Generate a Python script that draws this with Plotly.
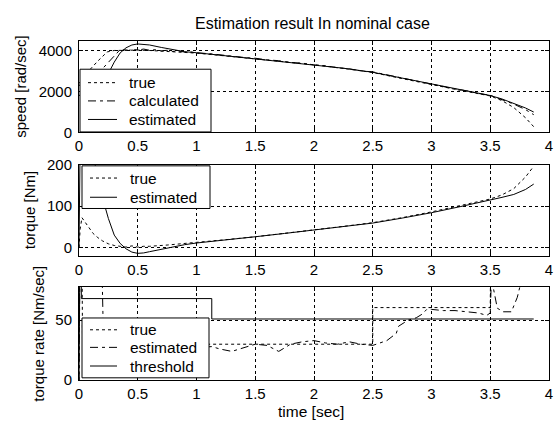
import plotly.graph_objects as go

# ---------------- data ----------------
# speed panel
speed_true_t = [0.0, 0.08, 0.16, 0.24, 0.3, 0.4, 0.5, 0.6, 0.75, 0.9, 1.0, 1.25, 1.5, 1.75, 2.0, 2.25,
                2.5, 2.75, 3.0, 3.25, 3.5, 3.6, 3.7, 3.8, 3.87]
speed_true = [2400, 3000, 3500, 3950, 4020, 4040, 4040, 4020, 3980, 3920, 3890, 3750, 3610, 3470, 3320,
              3140, 2940, 2640, 2340, 2060, 1790, 1560, 1220, 720, 280]

speed_calc_t = [0.0, 0.18, 0.26, 0.34, 0.38, 0.42, 0.46, 0.5, 0.55, 0.6, 0.65, 0.7, 0.75, 0.8, 0.85, 0.9,
                0.95, 1.0, 1.1, 1.2, 1.3, 1.4, 1.5, 1.6, 1.7, 1.8, 1.9, 2.0, 2.1, 2.2, 2.3, 2.4, 2.5,
                2.6, 2.7, 2.8, 2.9, 3.0, 3.1, 3.2, 3.3, 3.4, 3.5, 3.6, 3.7, 3.8, 3.87]
speed_calc = [2300, 3000, 3500, 4000, 4060, 4020, 4080, 4040, 4090, 4030, 4060, 4000, 4030, 3970, 3990,
              3940, 3950, 3900, 3870, 3800, 3760, 3680, 3640, 3560, 3520, 3430, 3400, 3310, 3270, 3170,
              3120, 3020, 2970, 2850, 2740, 2600, 2500, 2370, 2270, 2130, 2040, 1910, 1820, 1620, 1390,
              1120, 870]

speed_est_t = [0.0, 0.26, 0.3, 0.35, 0.4, 0.45, 0.5, 0.55, 0.6, 0.7, 0.8, 0.9, 1.0, 1.25, 1.5, 1.75,
               2.0, 2.25, 2.5, 2.75, 3.0, 3.25, 3.5, 3.6, 3.7, 3.8, 3.87]
speed_est = [1800, 3000, 3450, 3900, 4150, 4290, 4340, 4330, 4290, 4170, 4060, 3960, 3910, 3760, 3620,
             3480, 3330, 3150, 2950, 2660, 2370, 2090, 1810, 1640, 1430, 1200, 1000]

# torque panel
torque_true_t = [0.0, 0.01, 0.025, 0.05, 0.08, 0.12, 0.16, 0.2, 0.25, 0.3, 0.35, 0.4, 0.45, 0.5, 0.55,
                 0.6, 0.75, 1.0, 1.25, 1.5, 1.75, 2.0, 2.25, 2.5, 2.75, 3.0, 3.25, 3.5, 3.6, 3.7, 3.8, 3.87]
torque_true = [0, 45, 72, 62, 48, 34, 24, 16, 9, 5, 3, 1, 4, 1, 3, 3, 6, 12, 19, 26, 34, 43, 51, 60,
               72, 86, 101, 117, 127, 142, 170, 196]

torque_est_t = [0.0, 0.005, 0.01, 0.1, 0.15, 0.2, 0.25, 0.3, 0.35, 0.4, 0.45, 0.5, 0.55, 0.6, 0.7, 0.8,
                0.9, 1.0, 1.25, 1.5, 1.75, 2.0, 2.25, 2.5, 2.75, 3.0, 3.25, 3.5, 3.6, 3.7, 3.8, 3.87]
torque_est = [0, 150, 260, 240, 185, 120, 70, 30, 10, -3, -11, -14, -13, -10, -4, 2, 7, 11, 18, 26, 34,
              42, 50, 59, 71, 84, 99, 114, 121, 128, 140, 153]

# torque rate panel
rate_true_t = [0.0, 0.01, 0.02, 0.03, 2.5, 2.5, 3.5, 3.51, 3.87]
rate_true = [0, 200, 200, 30, 30, 60.5, 60.5, 200, 200]

rate_est_t = [0.0, 0.01, 0.19, 0.21, 0.4, 0.8, 1.13, 1.2, 1.3, 1.4, 1.5, 1.6, 1.7, 1.8, 1.9, 2.0, 2.1,
              2.2, 2.3, 2.4, 2.5, 2.56, 2.62, 2.7, 2.72, 2.8, 2.87, 2.92, 2.96, 3.0, 3.1, 3.2, 3.3, 3.4,
              3.47, 3.5, 3.51, 3.56, 3.61, 3.68, 3.73, 3.77]
rate_est = [0, 120, 120, 25, 22, 26, 28, 26, 24, 27, 30, 29, 24, 30, 32, 33, 31, 30, 32, 30, 29, 31, 33,
            39, 45, 50, 52, 55, 59, 59, 58, 58, 57, 56, 54, 56, 85, 60, 57, 57, 69, 85]

threshold_t = [0.0, 0.015, 0.02, 1.13, 1.13, 3.87]
threshold = [0, 200, 68, 68, 51, 51]

x_ticks = [0, 0.5, 1, 1.5, 2, 2.5, 3, 3.5, 4]
x_tick_labels = ["0", "0.5", "1", "1.5", "2", "2.5", "3", "3.5", "4"]

legend1_labels = ["true", "calculated", "estimated"]
legend2_labels = ["true", "estimated"]
legend3_labels = ["true", "estimated", "threshold"]

# ---------------- figure ----------------
W, H = 557, 430
L, R = 79, 8
PW = W - L - R

def py(pix):  # pixel y (from top) to paper y
    return (H - pix) / H

def px(pix):
    return (pix - L) / PW

DOT = "3px,3px"
DASHDOT = "8px,4px,3px,4px"
FONT = "Liberation Sans, Arial, sans-serif"

fig = go.Figure()

def line(x, y, name, dash, xa, ya):
    fig.add_trace(go.Scatter(x=x, y=y, name=name, mode="lines", xaxis=xa, yaxis=ya, showlegend=False,
                             line=dict(color="black", width=1, dash=dash)))

line(speed_true_t, speed_true, legend1_labels[0], DOT, "x", "y")
line(speed_calc_t, speed_calc, legend1_labels[1], DASHDOT, "x", "y")
line(speed_est_t, speed_est, legend1_labels[2], "solid", "x", "y")

line(torque_true_t, torque_true, legend2_labels[0], DOT, "x2", "y2")
line(torque_est_t, torque_est, legend2_labels[1], "solid", "x2", "y2")

line(rate_true_t, rate_true, legend3_labels[0], DOT, "x3", "y3")
line(rate_est_t, rate_est, legend3_labels[1], DASHDOT, "x3", "y3")
line(threshold_t, threshold, legend3_labels[2], "solid", "x3", "y3")

axis_common = dict(showline=True, linecolor="black", linewidth=1, mirror="allticks",
                   ticks="inside", ticklen=4, tickcolor="black", showgrid=True,
                   gridcolor="black", griddash="3px,3px", gridwidth=1, zeroline=False,
                   tickfont=dict(family=FONT, size=15, color="black"))

domains = [(128.5, 33), (257, 162), (386.5, 289)]
yranges = [[0, 4500], [-20, 200], [0, 78]]
yticks = [[0, 2000, 4000], [0, 100, 200], [0, 50]]

layout = dict(width=W, height=H, margin=dict(l=L, r=R, t=0, b=0),
              paper_bgcolor="white", plot_bgcolor="white",
              font=dict(family=FONT, size=15, color="black"), showlegend=False)

for i in range(3):
    sx = "" if i == 0 else str(i + 1)
    layout["xaxis" + sx] = dict(axis_common, domain=[0, 1], range=[0, 4], anchor="y" + sx,
                                tickvals=x_ticks, ticktext=x_tick_labels)
    layout["yaxis" + sx] = dict(axis_common, domain=[py(domains[i][0]), py(domains[i][1])],
                                range=yranges[i], anchor="x" + sx, tickvals=yticks[i],
                                ticklabelstandoff=3)

# ---- legend boxes (drawn as shapes + text, sized like the original) ----
shapes = []
annotations = []
legends = [
    # box (x0, x1, y0, y1) in pixels, sample x0/x1, text x, entry ys, labels, dashes
    dict(box=(80, 211, 62.7, 128), sx=(88, 117), tx=126.5, ys=[76.7, 95.7, 115],
         labels=legend1_labels, dashes=[DOT, DASHDOT, "solid"]),
    dict(box=(82, 210, 163.3, 207.7), sx=(90, 117), tx=127.5, ys=[176, 196],
         labels=legend2_labels, dashes=[DOT, "solid"]),
    dict(box=(82, 209, 321.7, 384), sx=(90, 117), tx=127.5, ys=[334, 352.3, 371.7],
         labels=legend3_labels, dashes=[DOT, DASHDOT, "solid"]),
]
for lg in legends:
    x0, x1, y0, y1 = lg["box"]
    shapes.append(dict(type="rect", xref="paper", yref="paper", x0=px(x0), x1=px(x1),
                       y0=py(y1), y1=py(y0), fillcolor="white", layer="above",
                       line=dict(color="black", width=1)))
    for yy, lab, dsh in zip(lg["ys"], lg["labels"], lg["dashes"]):
        shapes.append(dict(type="line", xref="paper", yref="paper", x0=px(lg["sx"][0]),
                           x1=px(lg["sx"][1]), y0=py(yy), y1=py(yy), layer="above",
                           line=dict(color="black", width=1, dash=dsh)))
        annotations.append(dict(text=lab, x=px(lg["tx"]), y=py(yy), xanchor="left", yanchor="middle",
                                font=dict(family=FONT, size=15.5, color="black")))

texts = [
    dict(text="Estimation result In nominal case", x=px(312), y=py(15), size=16),
    dict(text="time [sec]", x=px(311), y=py(419), size=15.5),
    dict(text="speed [rad/sec]", x=px(21), y=py(81), textangle=-90, size=15),
    dict(text="torque [Nm]", x=px(29), y=py(209.5), textangle=-90, size=15),
    dict(text="torque rate [Nm/sec]", x=px(39), y=py(338), textangle=-90, size=15),
]
for t in texts:
    s = t.pop("size")
    annotations.append(dict(t, xanchor="center", yanchor="middle",
                            font=dict(family=FONT, size=s, color="black")))

for a in annotations:
    a.update(xref="paper", yref="paper", showarrow=False)

layout["shapes"] = shapes
layout["annotations"] = annotations

fig.update_layout(**layout)

post = ("document.documentElement.style.margin='0';document.body.style.margin='0';"
        "document.body.style.padding='0';document.body.style.overflow='hidden';"
        "var d=document.getElementById('{plot_id}');d.style.position='absolute';"
        "d.style.left='0px';d.style.top='0px';")
fig.write_html("out.html", post_script=post, config={"displayModeBar": False})
